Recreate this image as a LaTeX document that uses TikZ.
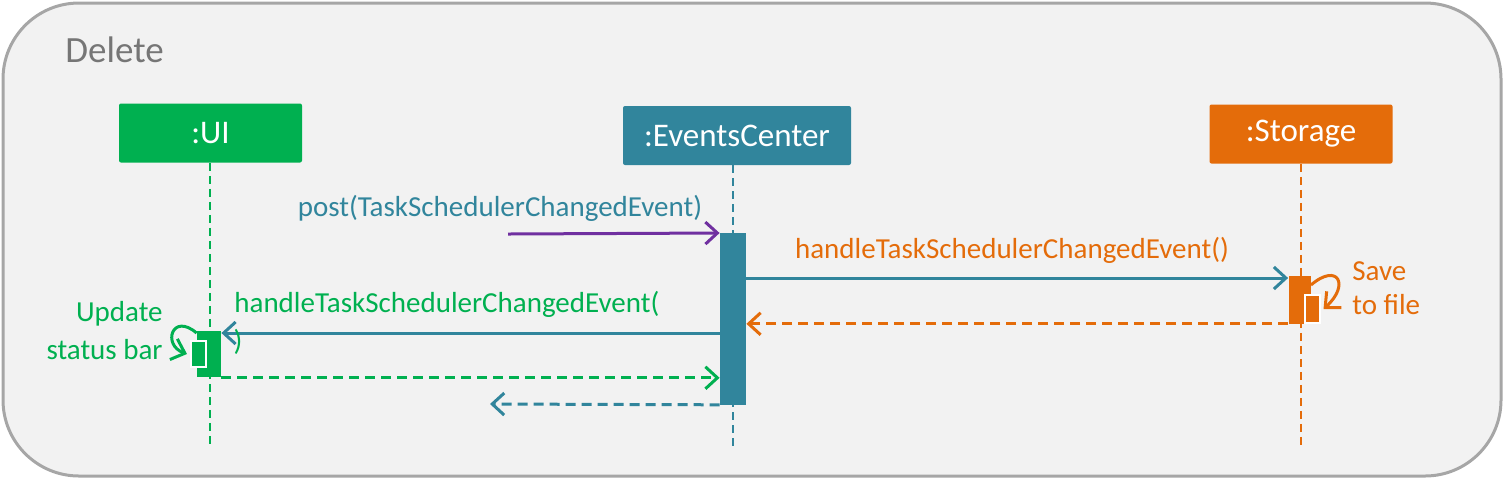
\documentclass[tikz,border=0pt]{standalone}
\usepackage{fontspec}
\setmainfont{Carlito}
\usetikzlibrary{arrows.meta}
\definecolor{cgreen}{HTML}{00B050}
\definecolor{cteal}{HTML}{31859C}
\definecolor{corange}{HTML}{E46C0A}
\definecolor{cpurple}{HTML}{7030A0}
\definecolor{cgraytext}{HTML}{767676}
\definecolor{cframe}{HTML}{A6A6A6}
\definecolor{cfill}{HTML}{F2F2F2}
\tikzset{
  objbox/.style={rectangle, rounded corners=1pt, minimum width=91.5pt, minimum height=29.5pt, inner sep=0pt, text=white, font=\fontsize{16.5}{18}\selectfont},
  lifeline/.style={line width=1.4pt, dash pattern=on 4pt off 2.5pt},
  actbox/.style={rectangle, inner sep=0pt, minimum width=12pt},
  subact/.style={rectangle, inner sep=0pt, minimum width=7.5pt, draw=white, line width=1pt},
  msg/.style={line width=1.5pt, -{Straight Barb[length=6pt,width=11pt,line width=1.5pt]}},
  ret/.style={msg, dash pattern=on 5pt off 3pt},
  lbl/.style={font=\fontsize{14.5}{16}\selectfont, inner sep=0pt}
}
\begin{document}
\begin{tikzpicture}[x=0.5pt,y=-0.5pt]
\useasboundingbox (0,0) rectangle (1504,479);
\draw[cframe, fill=cfill, line width=1.5pt, rounded corners=38pt] (3,3) rectangle (1501,476);
\node[anchor=base west, text=cgraytext, font=\fontsize{18.5}{20}\selectfont, inner sep=0pt] (title) at (65,62) {Delete};

% objects
\node[objbox, fill=cgreen] (ui) at (210.5,133) {:UI};
\node[objbox, fill=cteal, minimum width=114pt] (ec) at (737,135.5) {:EventsCenter};
\node[objbox, fill=corange] (st) at (1301,134) {:Storage};

% lifelines
\coordinate (uiend) at (210,445);
\coordinate (ecend) at (733,447);
\coordinate (stend) at (1301,447);
\draw[lifeline, cgreen] (ui.south -| uiend) -- (uiend);
\draw[lifeline, cteal] (ec.south -| ecend) -- (ecend);
\draw[lifeline, corange] (st.south -| stend) -- (stend);

% activations
\node[actbox, fill=cteal, minimum width=13pt, minimum height=86pt, anchor=north] (ecact) at (733,233) {};
\node[actbox, fill=corange, minimum width=11pt, minimum height=24pt, anchor=north] (stact) at (1299.5,276) {};
\node[subact, fill=corange, minimum height=14pt, anchor=north west] (stsub) at (1303.5,294) {};
\node[actbox, fill=cgreen, minimum width=12pt, minimum height=23pt, anchor=north] (uiact) at (209,331) {};
\node[subact, fill=cgreen, minimum height=13pt, anchor=north west] (uisub) at (190,340) {};

% messages
\coordinate (poststart) at (508,234);
\draw[msg, cpurple] (poststart) -- (ecact.north west);
\node[lbl, text=cteal] (postlbl) at (500,208) {post(TaskSchedulerChangedEvent)};

\draw[msg, cteal] ([yshift=-1pt]ecact.east |- stact.north) -- ([yshift=-1pt]stact.north west);
\node[lbl, text=corange] (h1lbl) at (1012,250) {handleTaskSchedulerChangedEvent()};

\draw[ret, corange] ([yshift=0.5pt]stact.south west) -- ([yshift=0.5pt]ecact.east |- stact.south);

\draw[msg, cteal] ([yshift=-1pt]ecact.west |- uiact.north) -- ([yshift=-1pt]uiact.north east);
\node[lbl, text=cgreen, anchor=west] (h2lbl) at (234,304) {handleTaskSchedulerChangedEvent(};
\node[lbl, text=cgreen] (h2par) at (238,342) {)};

\draw[ret, cgreen] (uiact.south east) -- (ecact.west |- uiact.south);

\coordinate (retend) at (490,404);
\draw[ret, cteal] ([yshift=0.5pt]ecact.south west) -- (retend);

% self calls
\draw[msg, corange] ([yshift=-4.5pt]stact.north east) .. controls (1338,262) and (1350,285) .. ([xshift=1.5pt]stsub.east);
\node[lbl, text=corange, anchor=west] (save1) at (1352,271) {Save};
\node[lbl, text=corange, anchor=west] (save2) at (1352,305) {to file};

\draw[msg, cgreen] ([yshift=-1pt]uiact.north west) .. controls (172,312) and (162,345) .. ([xshift=-1.5pt]uisub.west);
\node[lbl, text=cgreen, anchor=east] (upd1) at (163,314) {Update};
\node[lbl, text=cgreen, anchor=east] (upd2) at (163,350) {status bar};
\end{tikzpicture}
\end{document}
